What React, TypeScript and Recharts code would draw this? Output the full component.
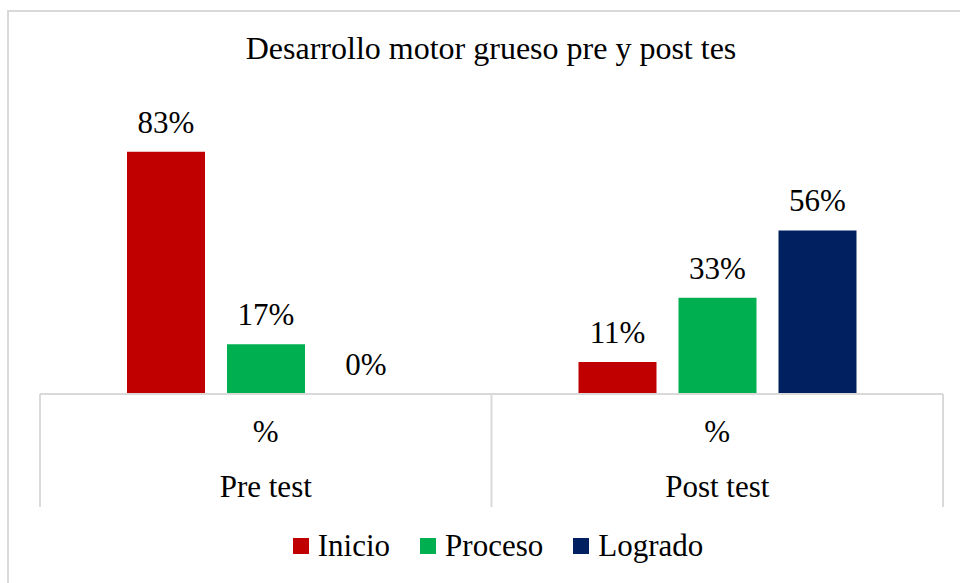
import { Bar, BarChart, LabelList, XAxis, YAxis } from "recharts";

const categories = ["Pre test", "Post test"];
const subLabels = ["%", "%"];
const inicio = [83, 11];
const proceso = [17, 33];
const logrado = [0, 56];

const series = [
  { key: "inicio", name: "Inicio", color: "#C00000" },
  { key: "proceso", name: "Proceso", color: "#00B050" },
  { key: "logrado", name: "Logrado", color: "#002060" },
];

const data = categories.map((c, i) => ({
  name: c,
  sub: subLabels[i],
  inicio: inicio[i],
  proceso: proceso[i],
  logrado: logrado[i],
}));

const W = 960;
const H = 583;
const LEFT = 40;
const RIGHT = 17;
const BAND = (W - LEFT - RIGHT) / categories.length;
const FONT = "'Liberation Serif', 'Times New Roman', serif";

function CategoryTick(props: any) {
  const { x, y, payload, index } = props;
  const half = BAND / 2;
  return (
    <g>
      <line x1={x - half} y1={y} x2={x - half} y2={y + 113} stroke="#d9d9d9" strokeWidth={2} />
      {index === categories.length - 1 && (
        <line x1={x + half} y1={y} x2={x + half} y2={y + 113} stroke="#d9d9d9" strokeWidth={2} />
      )}
      <text x={x} y={y + 48} textAnchor="middle" fontSize={31} style={{ fontFamily: FONT }} fill="#000">
        {subLabels[index]}
      </text>
      <text x={x} y={y + 103} textAnchor="middle" fontSize={31} style={{ fontFamily: FONT }} fill="#000">
        {payload.value}
      </text>
    </g>
  );
}

export default function App() {
  return (
    <div style={{ position: "absolute", left: 0, top: 0, width: W, height: H, background: "#fff", overflow: "hidden", fontFamily: FONT }}>
      <div
        style={{
          position: "absolute",
          left: 7,
          top: 10,
          width: W,
          height: H,
          borderTop: "2px solid #d9d9d9",
          borderLeft: "2px solid #d9d9d9",
          boxSizing: "border-box",
        }}
      />
      <div
        style={{
          position: "absolute",
          left: 0,
          width: 982,
          top: 30,
          textAlign: "center",
          fontSize: 32,
          color: "#000",
        }}
      >
        Desarrollo motor grueso pre y post tes
      </div>
      <div style={{ position: "absolute", left: 0, top: 0 }}>
        <BarChart
          width={W}
          height={H}
          data={data}
          margin={{ top: 102, right: RIGHT, bottom: 69, left: LEFT }}
          barCategoryGap={87}
          barGap={22}
        >
          <XAxis
            dataKey="name"
            height={120}
            tickSize={0}
            tickMargin={0}
            tickLine={false}
            axisLine={{ stroke: "#d9d9d9", strokeWidth: 2 }}
            tick={<CategoryTick />}
            interval={0}
          />
          <YAxis hide domain={[0, 100]} />
          {series.map((s) => (
            <Bar key={s.key} dataKey={s.key} name={s.name} fill={s.color} minPointSize={0.01} isAnimationActive={false}>
              <LabelList
                dataKey={s.key}
                position="top"
                offset={19}
                formatter={(v: any) => `${v}%`}
                style={{ fontSize: 31, fontFamily: FONT, fill: "#000" }}
              />
            </Bar>
          ))}
        </BarChart>
      </div>
      <div
        style={{
          position: "absolute",
          left: 0,
          width: 996,
          top: 528,
          display: "flex",
          justifyContent: "center",
          alignItems: "center",
          fontSize: 31,
          color: "#000",
        }}
      >
        {series.map((s, i) => (
          <div key={s.key} style={{ display: "flex", alignItems: "center", marginLeft: i === 0 ? 0 : 30 }}>
            <span style={{ display: "inline-block", width: 16, height: 16, background: s.color, marginRight: 9 }} />
            <span>{s.name}</span>
          </div>
        ))}
      </div>
    </div>
  );
}
